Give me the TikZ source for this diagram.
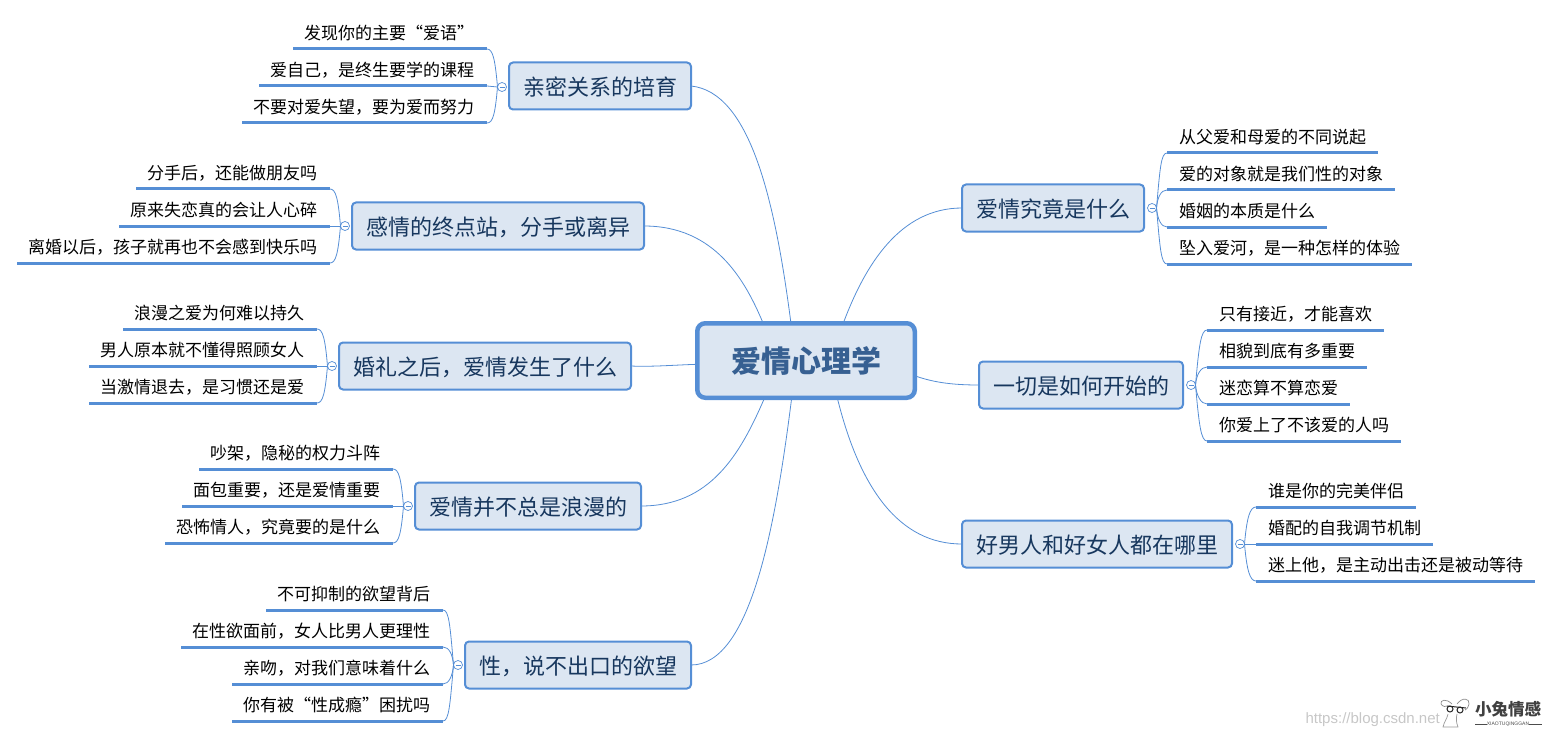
\documentclass[tikz,border=0pt]{standalone}
\usepackage{fontspec}
\setmainfont{Noto Sans CJK SC}
\newfontfamily\latinfont{Liberation Sans}
\definecolor{mapblue}{HTML}{558ED5}
\definecolor{mapfill}{HTML}{DCE6F2}
\definecolor{topicink}{HTML}{17375E}
\definecolor{rootink}{HTML}{376092}
\tikzset{
  rootbox/.style={draw=mapblue, fill=mapfill, line width=4.5pt, rounded corners=8pt, text=rootink,
    font=\fontsize{30}{32}\selectfont\bfseries, minimum width=217.5pt, minimum height=74.5pt, outer sep=0pt},
  topic/.style={draw=mapblue, fill=mapfill, line width=2pt, rounded corners=4pt, text=topicink,
    font=\fontsize{22}{24}\selectfont, minimum height=47pt, inner xsep=14pt, inner ysep=0pt, outer sep=0pt,
    text height=20pt, text depth=1.2pt},
  leaf/.style={font=\fontsize{17}{19}\selectfont, text=black, minimum height=32pt, inner ysep=0pt, outer sep=0pt},
  leafleft/.style={leaf, anchor=south east, inner xsep=11pt, execute at end node=\hspace{2pt}},
  leafright/.style={leaf, anchor=south west, inner xsep=12pt},
  hub/.style={circle, draw=mapblue, fill=white, line width=.7pt, minimum size=9pt, inner sep=0pt, outer sep=0pt},
  branch/.style={draw=mapblue, line width=.8pt},
  leafline/.style={draw=mapblue, line width=3pt},
  bracket/.style={draw=mapblue, line width=.8pt},
  upleft/.style={out=95, in=0, out distance=#1, in distance=6pt},
  downleft/.style={out=-95, in=0, out distance=#1, in distance=6pt},
  upright/.style={out=85, in=180, out distance=#1, in distance=6pt},
  downright/.style={out=-85, in=180, out distance=#1, in distance=6pt}
}
\begin{document}
\begin{tikzpicture}[x=1pt,y=1pt]
  \useasboundingbox (0,0) rectangle (1552,-738);

  \node[rootbox] (root) at (806,-360.5) {爱情心理学};

  % left side
  \node[topic] (closeness) at (600,-86) {亲密关系的培育};
  \node[topic] (breakup) at (498,-226) {感情的终点站，分手或离异};
  \node[topic] (wedding) at (485,-366) {婚礼之后，爱情发生了什么};
  \node[topic] (romance) at (528,-506) {爱情并不总是浪漫的};
  \node[topic] (desire) at (578,-665) {性，说不出口的欲望};

  % right side
  \node[topic] (whatis) at (1053,-208) {爱情究竟是什么};
  \node[topic] (begin) at (1081,-385) {一切是如何开始的};
  \node[topic] (where) at (1097,-544) {好男人和好女人都在哪里};

  \node[hub] (h1) at (502,-87) {};
  \node[hub] (h2) at (345,-226) {};
  \node[hub] (h3) at (332,-366) {};
  \node[hub] (h4) at (408,-506) {};
  \node[hub] (h5) at (458,-665) {};
  \node[hub] (h6) at (1152,-208) {};
  \node[hub] (h7) at (1191,-385) {};
  \node[hub] (h8) at (1240,-544) {};
  \foreach \h in {h1,h2,h3,h4,h5,h6,h7,h8}
    \draw[mapblue, line width=.7pt] ([xshift=2pt]\h.west) -- ([xshift=-2pt]\h.east);

  \node[leafleft] (a1) at (487,-49) {发现你的主要“爱语”};
  \node[leafleft] (a2) at (487,-86) {爱自己，是终生要学的课程};
  \node[leafleft] (a3) at (487,-123) {不要对爱失望，要为爱而努力};

  \node[leafleft] (b1) at (330,-189) {分手后，还能做朋友吗};
  \node[leafleft] (b2) at (330,-226) {原来失恋真的会让人心碎};
  \node[leafleft] (b3) at (330,-263) {离婚以后，孩子就再也不会感到快乐吗};

  \node[leafleft] (c1) at (317,-329) {浪漫之爱为何难以持久};
  \node[leafleft] (c2) at (317,-366) {男人原本就不懂得照顾女人};
  \node[leafleft] (c3) at (317,-403) {当激情退去，是习惯还是爱};

  \node[leafleft] (d1) at (393,-469) {吵架，隐秘的权力斗阵};
  \node[leafleft] (d2) at (393,-506) {面包重要，还是爱情重要};
  \node[leafleft] (d3) at (393,-543) {恐怖情人，究竟要的是什么};

  \node[leafleft] (e1) at (443,-610) {不可抑制的欲望背后};
  \node[leafleft] (e2) at (443,-647) {在性欲面前，女人比男人更理性};
  \node[leafleft] (e3) at (443,-684) {亲吻，对我们意味着什么};
  \node[leafleft] (e4) at (443,-721) {你有被“性成瘾”困扰吗};

  \node[leafright] (f1) at (1167,-153) {从父爱和母爱的不同说起};
  \node[leafright] (f2) at (1167,-190) {爱的对象就是我们性的对象};
  \node[leafright] (f3) at (1167,-227) {婚姻的本质是什么};
  \node[leafright] (f4) at (1167,-264) {坠入爱河，是一种怎样的体验};

  \node[leafright] (g1) at (1207,-330) {只有接近，才能喜欢};
  \node[leafright] (g2) at (1207,-367) {相貌到底有多重要};
  \node[leafright] (g3) at (1207,-404) {迷恋算不算恋爱};
  \node[leafright] (g4) at (1207,-441) {你爱上了不该爱的人吗};

  \node[leafright] (k1) at (1256,-507) {谁是你的完美伴侣};
  \node[leafright] (k2) at (1256,-544) {婚配的自我调节机制};
  \node[leafright] (k3) at (1256,-581) {迷上他，是主动出击还是被动等待};

  \foreach \lf in {a1,a2,a3,b1,b2,b3,c1,c2,c3,d1,d2,d3,e1,e2,e3,e4,f1,f2,f3,f4,g1,g2,g3,g4,k1,k2,k3}
    \draw[leafline] (\lf.south west) -- (\lf.south east);

  % root to topics
  \draw[branch] (root.112) .. controls (775,-200) and (750,-92) .. (closeness.east);
  \draw[branch] (root.139) .. controls (745,-280) and (715,-226) .. (breakup.east);
  \draw[branch] (root.182) .. controls (675,-365) and (650,-367) .. (wedding.east);
  \draw[branch] (root.222) .. controls (740,-455) and (710,-506) .. (romance.east);
  \draw[branch] (root.249) .. controls (775,-530) and (750,-665) .. (desire.east);
  \draw[branch] (root.45) .. controls (865,-265) and (900,-208) .. (whatis.west);
  \draw[branch] (root.-8) .. controls (935,-383) and (955,-385) .. (begin.west);
  \draw[branch] (root.-50) .. controls (860,-490) and (900,-544) .. (where.west);

  % hubs to leaves
  \draw[bracket] (h1.west) to[upleft=27pt] (a1.south east);
  \draw[bracket] (h1.west) -- (a2.south east);
  \draw[bracket] (h1.west) to[downleft=27pt] (a3.south east);

  \draw[bracket] (h2.west) to[upleft=27pt] (b1.south east);
  \draw[bracket] (h2.west) -- (b2.south east);
  \draw[bracket] (h2.west) to[downleft=27pt] (b3.south east);

  \draw[bracket] (h3.west) to[upleft=27pt] (c1.south east);
  \draw[bracket] (h3.west) -- (c2.south east);
  \draw[bracket] (h3.west) to[downleft=27pt] (c3.south east);

  \draw[bracket] (h4.west) to[upleft=27pt] (d1.south east);
  \draw[bracket] (h4.west) -- (d2.south east);
  \draw[bracket] (h4.west) to[downleft=27pt] (d3.south east);

  \draw[bracket] (h5.west) to[upleft=40pt] (e1.south east);
  \draw[bracket] (h5.west) to[upleft=11pt] (e2.south east);
  \draw[bracket] (h5.west) to[downleft=11pt] (e3.south east);
  \draw[bracket] (h5.west) to[downleft=40pt] (e4.south east);

  \draw[bracket] (h6.east) to[upright=40pt] (f1.south west);
  \draw[bracket] (h6.east) to[upright=11pt] (f2.south west);
  \draw[bracket] (h6.east) to[downright=11pt] (f3.south west);
  \draw[bracket] (h6.east) to[downright=40pt] (f4.south west);

  \draw[bracket] (h7.east) to[upright=40pt] (g1.south west);
  \draw[bracket] (h7.east) to[upright=11pt] (g2.south west);
  \draw[bracket] (h7.east) to[downright=11pt] (g3.south west);
  \draw[bracket] (h7.east) to[downright=40pt] (g4.south west);

  \draw[bracket] (h8.east) to[upright=27pt] (k1.south west);
  \draw[bracket] (h8.east) -- (k2.south west);
  \draw[bracket] (h8.east) to[downright=27pt] (k3.south west);

  % watermark and logo
  \node[font=\latinfont\fontsize{15}{17}\selectfont, text=black!22, anchor=east, inner sep=0pt] (mark) at (1440,-720) {https://blog.csdn.net};
  \node[font=\fontsize{16.5}{18}\selectfont\bfseries, text=black!75, inner sep=0pt] (logo) at (1508,-709) {小兔情感};
  \node[font=\latinfont\fontsize{5}{6}\selectfont, text=black!70, inner sep=0pt] (logosub) at (1508,-724) {XIAOTUQINGGAN};
  \draw[black!70, line width=.8pt] (1475,-724) -- (logosub.west);
  \draw[black!70, line width=.8pt] (logosub.east) -- (1542,-724);
  \draw[black!45, line width=.7pt] (1452,-704) .. controls (1446,-698) and (1440,-700) .. (1441,-704) .. controls (1443,-707) and (1446,-707) .. (1447,-706);
  \draw[black!45, line width=.7pt] (1457,-704) .. controls (1462,-697) and (1470,-698) .. (1469,-704) .. controls (1468,-708) and (1466,-710) .. (1465,-710);
  \draw[black!85, line width=1pt] (1447,-706) -- (1466,-708);
  \draw[black!85, line width=1pt] (1450,-709) circle (3pt) (1460,-710) circle (3pt);
  \draw[black!40, line width=.7pt] (1448,-714) .. controls (1447,-719) and (1444,-722) .. (1443,-727) -- (1458,-727) .. controls (1456,-722) and (1456,-718) .. (1457,-714);
\end{tikzpicture}
\end{document}
